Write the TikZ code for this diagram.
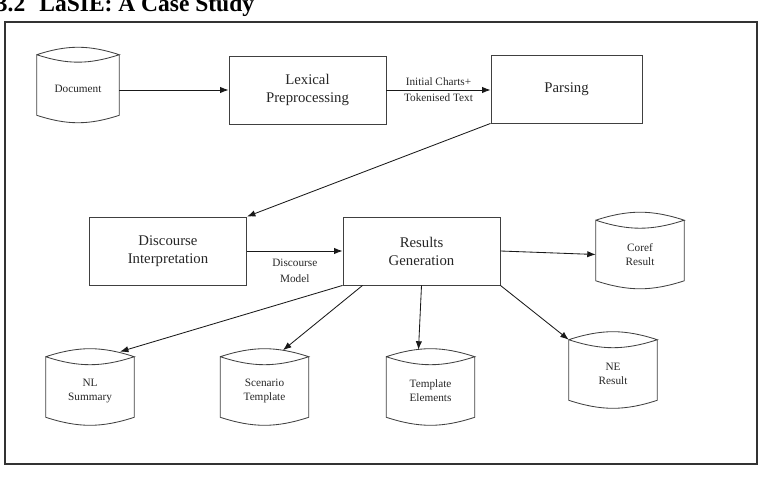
\documentclass[tikz,border=0pt]{standalone}
\usepackage{fontspec}
\setmainfont{Liberation Serif}
\usetikzlibrary{arrows.meta,calc}

\tikzset{
  process/.style={draw=black!75, line width=0.6pt, minimum width=3.925cm, minimum height=1.7cm,
    align=center, inner sep=0pt, text=black!85, font=\fontsize{10.5}{12.8}\selectfont},
  store/.style={minimum width=2.2cm, minimum height=1.3cm, align=center, inner sep=0pt,
    text=black!85, font=\fontsize{8}{10}\selectfont},
  flow/.style={-{Latex[length=6pt,width=4.5pt]}, line width=0.6pt, black!90},
  note/.style={align=center, text=black!85, font=\fontsize{8}{11.4}\selectfont}
}

\newcommand{\drum}[1]{%
  \draw[line width=0.6pt, black!75] ($(#1.north west)+(0,-8)$) coordinate (#1-nw)
    to[bend left=18] ($(#1.north east)+(0,-8)$) coordinate (#1-ne)
    to[bend left=18] (#1-nw) -- (#1.south west)
    to[bend right=18] (#1.south east) -- (#1-ne);}

\begin{document}
\begin{tikzpicture}[x=0.025cm, y=-0.025cm]
  \useasboundingbox (0,0) rectangle (762,478);

  \node[anchor=base west, font=\bfseries\fontsize{16.7}{20}\selectfont] (title) at (-9,12)
    {3.2\hspace{0.6em}LaSIE: A Case Study};
  \draw[line width=0.8pt, black!80] (5,22) rectangle (757,464);

  \node[store, minimum width=2.05cm] (doc) at (78,89) {Document};
  \node[process] (lex) at (307.5,90) {Lexical\\Preprocessing};
  \node[process, minimum width=3.775cm] (parse) at (566.5,89) {Parsing};
  \node[process] (interp) at (168,251) {Discourse\\Interpretation};
  \node[process] (results) at (421.5,251) {Results\\Generation};
  \node[store] (coref) at (640,254.5) {Coref\\Result};
  \node[store] (ne) at (613,374) {NE\\Result};
  \node[store] (elements) at (430.5,391) {Template\\Elements};
  \node[store] (scenario) at (264.5,391) {Scenario\\Template};
  \node[store] (summary) at (90,391) {NL\\Summary};

  \drum{doc}
  \drum{coref}
  \drum{ne}
  \drum{elements}
  \drum{scenario}
  \drum{summary}

  \draw[flow] (doc.east |- lex.west) -- (lex.west);
  \draw[flow] (lex.east) -- node[note] {Initial Charts+\\Tokenised Text} (lex.east -| parse.west);
  \draw[flow] (parse.south west) -- (interp.north east);
  \draw[flow] (interp.east) -- node[note, below, yshift=-2pt] {Discourse\\Model} (results.west);
  \draw[flow] (results.east) -- (coref.west);
  \draw[flow] (results.south east) -- (ne-nw);
  \draw[flow] (results.south) -- ($(elements.north)+(-12,-15)$);
  \draw[flow] ($(results.south west)+(20,0)$) -- ($(scenario.north)+(18.5,-14.5)$);
  \draw[flow] (results.south west) -- ($(summary.north)+(30,-13)$);

\end{tikzpicture}
\end{document}
